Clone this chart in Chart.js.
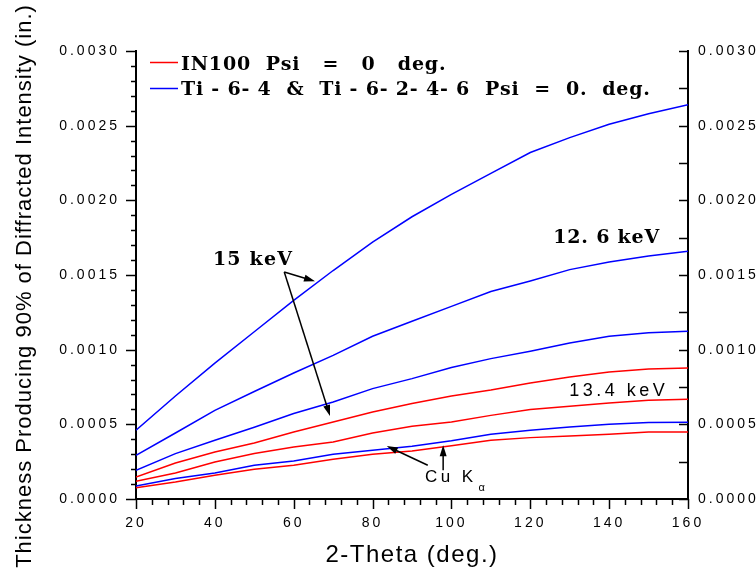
<!DOCTYPE html>
<html>
<head>
<meta charset="utf-8">
<script src="https://cdn.jsdelivr.net/npm/chart.js@4/dist/chart.umd.min.js"></script>
<style>
  html, body { margin: 0; padding: 0; background: #fff; }
  #wrap { width: 756px; height: 571px; }
</style>
</head>
<body>
<div id="wrap"><canvas id="chartThick" width="756" height="571"></canvas></div>
<script>
// 2-theta values (deg.)
const twoTheta = [20, 30, 40, 50, 60, 70, 80, 90, 100, 110, 120, 130, 140, 150, 160];

// Ti-6-4 & Ti-6-2-4-6, Psi = 0 deg. (in.)
const ti15keV   = [0.00046, 0.00069, 0.00091, 0.00112, 0.00133, 0.00153, 0.00172, 0.00189, 0.00204, 0.00218, 0.00232, 0.00242, 0.00251, 0.00258, 0.00264];
const ti126keV  = [0.000293, 0.000442, 0.000594, 0.00072, 0.000844, 0.000962, 0.00109, 0.00119, 0.00129, 0.00139, 0.00146, 0.001536, 0.001587, 0.001627, 0.001659];
const ti134keV  = [0.000192, 0.000304, 0.000393, 0.00048, 0.000572, 0.00065, 0.000739, 0.000806, 0.00088, 0.00094, 0.00099, 0.001045, 0.00109, 0.001114, 0.001123];
const tiCuKa    = [0.000087, 0.000137, 0.000174, 0.000226, 0.000254, 0.000299, 0.000326, 0.000353, 0.00039, 0.000433, 0.00046, 0.000482, 0.0005, 0.000512, 0.000514];

// IN100, Psi = 0 deg. (in.)
const in15keV   = [0.000147, 0.000241, 0.000315, 0.000375, 0.000449, 0.000516, 0.000583, 0.00064, 0.00069, 0.00073, 0.000777, 0.000817, 0.00085, 0.00087, 0.000877];
const in134keV  = [0.000119, 0.000174, 0.000248, 0.000304, 0.000348, 0.000382, 0.000442, 0.000487, 0.000516, 0.00056, 0.000599, 0.000621, 0.000643, 0.000661, 0.000668];
const inCuKa    = [0.000076, 0.000114, 0.000159, 0.000199, 0.000226, 0.000266, 0.000299, 0.000321, 0.000357, 0.000393, 0.000411, 0.000422, 0.000433, 0.000449, 0.000449];

const legendLabels = ["IN100  Psi   =   0   deg.", "Ti - 6- 4  &  Ti - 6- 2- 4- 6  Psi  =  0.  deg."];

const RED = "#ff0000";
const BLUE = "#0000ff";

function serie(label, values, color) {
  return {
    label: label,
    data: twoTheta.map((t, i) => ({ x: t, y: values[i] })),
    borderColor: color,
    backgroundColor: color,
    borderWidth: 1.5,
    pointRadius: 0,
    tension: 0,
    fill: false
  };
}

// setas e rótulos das curvas, em coordenadas dos dados
const arrows = [
  { from: [57.6, 0.00152], to: [65.4, 0.001458] },
  { from: [57.6, 0.00152], to: [69.2, 0.000556] },
  { from: [94.0, 0.000226], to: [83.6, 0.000355] },
  { from: [97.9, 0.000192], to: [97.9, 0.00036] }
];
const notes = [
  { text: "15 keV", x: 39.5, y: 0.0016, align: "left", font: "bold 19px 'DejaVu Serif'", spacing: 1.2 },
  { text: "12. 6 keV", x: 152.9, y: 0.001746, align: "right", font: "bold 19px 'DejaVu Serif'", spacing: 0.8 },
  { text: "13.4 keV", x: 155.0, y: 0.000723, align: "right", font: "18px 'Liberation Sans'", spacing: 3.5 },
  { text: "Cu K", x: 93.3, y: 0.000145, align: "left", font: "17px 'Liberation Sans'", spacing: 3.4, sub: "\u03b1" }
];

function drawArrow(ctx, x1, y1, x2, y2) {
  const ang = Math.atan2(y2 - y1, x2 - x1);
  const len = 11, half = 3.5;
  ctx.beginPath();
  ctx.moveTo(x1, y1);
  ctx.lineTo(x2 - Math.cos(ang) * len * 0.8, y2 - Math.sin(ang) * len * 0.8);
  ctx.stroke();
  ctx.beginPath();
  ctx.moveTo(x2, y2);
  ctx.lineTo(x2 - Math.cos(ang) * len - Math.sin(ang) * half, y2 - Math.sin(ang) * len + Math.cos(ang) * half);
  ctx.lineTo(x2 - Math.cos(ang) * len + Math.sin(ang) * half, y2 - Math.sin(ang) * len - Math.cos(ang) * half);
  ctx.closePath();
  ctx.fill();
}

const decoracao = {
  id: "decoracao",
  beforeDraw(chart) {
    // espaçamento largo entre os dígitos dos eixos
    chart.ctx.letterSpacing = "3px";
  },
  afterDraw(chart) {
    const ctx = chart.ctx;
    const xs = chart.scales.x, ys = chart.scales.y;
    const area = chart.chartArea;
    ctx.save();
    ctx.strokeStyle = "#000";
    ctx.fillStyle = "#000";
    ctx.lineWidth = 1.5;

    // marcas dos eixos (principais e secundárias)
    for (let v = 20; v <= 160.001; v += 4) {
      const px = Math.round(xs.getPixelForValue(v)) + 0.5;
      const major = Math.abs(v % 20) < 0.001;
      ctx.beginPath();
      ctx.moveTo(px, area.bottom);
      ctx.lineTo(px, area.bottom + (major ? 10 : 6));
      ctx.stroke();
    }
    for (let k = 0; k <= 30; k++) {
      const py = Math.round(ys.getPixelForValue(k * 0.0001)) + 0.5;
      const major = k % 5 === 0;
      ctx.beginPath();
      ctx.moveTo(area.left, py);
      ctx.lineTo(area.left - (major ? 10 : 5), py);
      ctx.stroke();
    }
    for (let k = 0; k <= 12; k++) {
      const py = Math.round(ys.getPixelForValue(k * 0.00025)) + 0.5;
      ctx.beginPath();
      ctx.moveTo(area.right, py);
      ctx.lineTo(area.right - 9, py);
      ctx.stroke();
    }

    // títulos dos eixos
    ctx.letterSpacing = "1.5px";
    ctx.font = "24px 'Liberation Sans'";
    ctx.textAlign = "center";
    ctx.textBaseline = "alphabetic";
    ctx.fillText("2-Theta (deg.)", 412, 562);
    ctx.save();
    ctx.translate(31, 286);
    ctx.rotate(-Math.PI / 2);
    ctx.letterSpacing = "1px";
    ctx.font = "22px 'Liberation Sans'";
    ctx.fillText("Thickness Producing 90% of Diffracted Intensity (in.)", 0, 0);
    ctx.restore();

    // legenda
    const lx = area.left + 14;
    [[RED, 62.5, 69.5], [BLUE, 88.5, 95]].forEach((row, i) => {
      ctx.strokeStyle = row[0];
      ctx.lineWidth = 1.5;
      ctx.beginPath();
      ctx.moveTo(lx, row[1]);
      ctx.lineTo(lx + 28, row[1]);
      ctx.stroke();
      ctx.fillStyle = "#000";
      ctx.font = "bold 19px 'DejaVu Serif'";
      ctx.letterSpacing = "0.8px";
      ctx.textAlign = "left";
      ctx.fillText(legendLabels[i], lx + 31, row[2]);
    });

    // setas
    ctx.strokeStyle = "#000";
    ctx.fillStyle = "#000";
    ctx.lineWidth = 1.5;
    arrows.forEach(a => {
      drawArrow(ctx, xs.getPixelForValue(a.from[0]), ys.getPixelForValue(a.from[1]),
                xs.getPixelForValue(a.to[0]), ys.getPixelForValue(a.to[1]));
    });

    // rótulos das curvas
    ctx.textBaseline = "middle";
    notes.forEach(n => {
      ctx.font = n.font;
      ctx.letterSpacing = n.spacing + "px";
      ctx.textAlign = n.align;
      const px = xs.getPixelForValue(n.x), py = ys.getPixelForValue(n.y);
      ctx.fillText(n.text, px, py);
      if (n.sub) {
        const w = ctx.measureText(n.text).width;
        ctx.font = "11px 'Liberation Sans'";
        ctx.letterSpacing = "0px";
        ctx.fillText(n.sub, px + w + 2, py + 11);
      }
    });
    ctx.restore();
  }
};

const tickFont = { family: "'Liberation Sans'", size: 14 };

new Chart(document.getElementById("chartThick"), {
  type: "line",
  data: {
    datasets: [
      serie("Ti 15 keV", ti15keV, BLUE),
      serie("Ti 12.6 keV", ti126keV, BLUE),
      serie("Ti 13.4 keV", ti134keV, BLUE),
      serie("IN100 15 keV", in15keV, RED),
      serie("IN100 13.4 keV", in134keV, RED),
      serie("Ti Cu Ka", tiCuKa, BLUE),
      serie("IN100 Cu Ka", inCuKa, RED)
    ]
  },
  options: {
    responsive: false,
    animation: false,
    layout: { padding: { top: 51, left: 0, right: 0, bottom: 0 } },
    plugins: {
      legend: { display: false },
      tooltip: { enabled: false }
    },
    scales: {
      x: {
        type: "linear",
        min: 20,
        max: 160,
        afterFit: s => { s.height = 72; },
        ticks: { stepSize: 20, color: "#000", font: tickFont, padding: 16, maxRotation: 0 },
        grid: { display: false, drawTicks: false },
        border: { display: true, color: "#000", width: 2 }
      },
      y: {
        min: 0,
        max: 0.003,
        afterFit: s => { s.width = 136; },
        ticks: { stepSize: 0.0005, color: "#000", font: tickFont, padding: 16, callback: v => v.toFixed(4) },
        grid: { display: false, drawTicks: false },
        border: { display: true, color: "#000", width: 2 }
      },
      y2: {
        position: "right",
        min: 0,
        max: 0.003,
        afterFit: s => { s.width = 68; },
        ticks: { stepSize: 0.0005, color: "#000", font: tickFont, padding: 10, callback: v => v.toFixed(4) },
        grid: { display: false, drawTicks: false },
        border: { display: true, color: "#000", width: 2 }
      }
    }
  },
  plugins: [decoracao]
});
</script>
</body>
</html>
